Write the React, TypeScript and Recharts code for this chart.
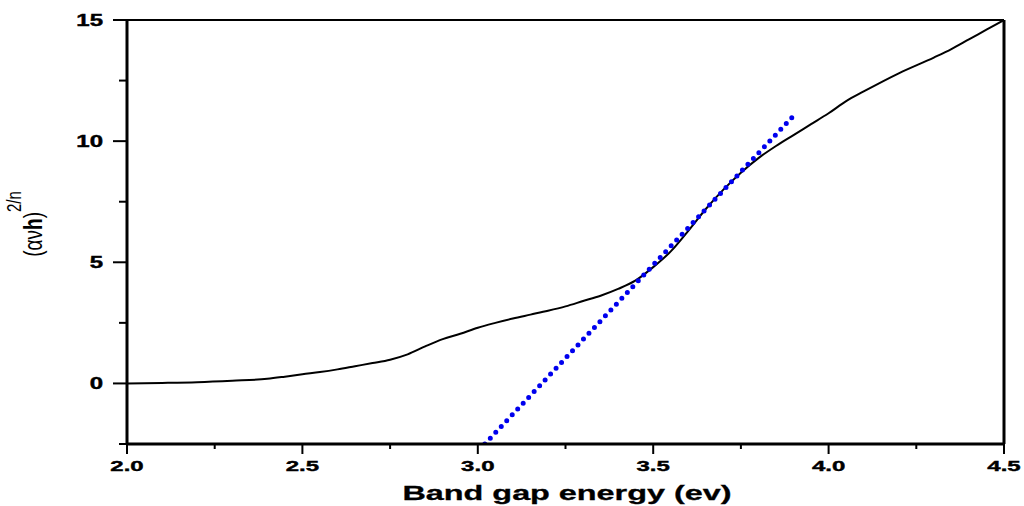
import { LineChart, Line, XAxis, YAxis, ReferenceLine } from 'recharts'

// measured absorption curve
const energy = [
  2.0, 2.1, 2.2, 2.3, 2.4, 2.45, 2.5, 2.55, 2.6, 2.65, 2.7, 2.75, 2.8, 2.85, 2.9, 2.95,
  3.0, 3.05, 3.1, 3.15, 3.2, 3.25, 3.3, 3.35, 3.4, 3.45, 3.5, 3.55, 3.6, 3.65, 3.7, 3.75,
  3.8, 3.85, 3.9, 3.95, 4.0, 4.05, 4.1, 4.2, 4.3, 4.35, 4.4, 4.45, 4.5,
]
const absorption = [
  0.0, 0.02, 0.05, 0.11, 0.19, 0.28, 0.38, 0.47, 0.58, 0.71, 0.84, 0.98, 1.2, 1.53, 1.83, 2.05,
  2.3, 2.5, 2.68, 2.84, 3.0, 3.18, 3.4, 3.62, 3.9, 4.25, 4.8, 5.45, 6.3, 7.2, 8.0, 8.7,
  9.3, 9.8, 10.25, 10.7, 11.15, 11.65, 12.05, 12.8, 13.45, 13.8, 14.2, 14.6, 15.0,
]

// linear fit (Tauc extrapolation)
const fitEnergy = [3.02, 3.91]
const fitValue = [-2.5, 11.2]

const xTicks = [2.0, 2.25, 2.5, 2.75, 3.0, 3.25, 3.5, 3.75, 4.0, 4.25, 4.5]
const yTicks = [-2.5, 0, 2.5, 5, 7.5, 10, 12.5, 15]

const curveData = energy.map((x, i) => ({ x, y: absorption[i] }))
const fitData = fitEnergy.map((x, i) => ({ x, y: fitValue[i] }))

const FONT = '"Liberation Sans", Arial, sans-serif'

function YTick({ x, y, payload }: any) {
  const v = payload.value as number
  const major = v % 5 === 0
  return (
    <g>
      <line x1={x - (major ? 14 : 8)} x2={x} y1={y} y2={y} stroke="#000" strokeWidth={2} />
      {major && (
        <text
          transform={`translate(${x - 24}, ${y + 6}) scale(1.5, 1)`}
          textAnchor="end"
          fontFamily={FONT}
          fontWeight="bold"
          fontSize={16}
          fill="#000"
          stroke="#000"
          strokeWidth={0.4}
        >
          {v}
        </text>
      )}
    </g>
  )
}

function XTick({ x, y, payload }: any) {
  const v = payload.value as number
  const major = Math.abs(v * 2 - Math.round(v * 2)) < 1e-6
  return (
    <g>
      <line x1={x} x2={x} y1={y} y2={y + (major ? 10 : 5)} stroke="#000" strokeWidth={2} />
      {major && (
        <text
          transform={`translate(${x}, ${y + 27}) scale(1.6, 1)`}
          textAnchor="middle"
          fontFamily={FONT}
          fontWeight="bold"
          fontSize={15}
          fill="#000"
          stroke="#000"
          strokeWidth={0.4}
        >
          {v.toFixed(1)}
        </text>
      )}
    </g>
  )
}

function XTitle() {
  return (
    <text
      x={567}
      y={500}
      textAnchor="middle"
      textLength={329}
      lengthAdjust="spacingAndGlyphs"
      fontFamily={FONT}
      fontWeight="bold"
      fontSize={21}
      fill="#000"
      stroke="#000"
      strokeWidth={0.3}
    >
      Band gap energy (ev)
    </text>
  )
}

function YTitle() {
  return (
    <text
      transform="translate(41.5, 224) scale(1.35, 1) rotate(-90)"
      textAnchor="middle"
      fontFamily={FONT}
      fontSize={19}
      fill="#000"
    >
      (αν<tspan fontWeight="bold">h</tspan>)
      <tspan fontSize={15} dy={-15}>2/n</tspan>
    </text>
  )
}

export default function App() {
  return (
    <div style={{ position: 'absolute', left: 0, top: 0, width: 1024, height: 506, background: '#fff' }}>
      <LineChart width={1024} height={506} margin={{ top: 20, right: 20, bottom: 0, left: 0 }}>
        <XAxis
          type="number"
          dataKey="x"
          domain={[2, 4.5]}
          ticks={xTicks}
          interval={0}
          allowDataOverflow
          height={62}
          tickSize={0}
          tickMargin={0}
          tickLine={false}
          axisLine={{ stroke: '#000', strokeWidth: 3 }}
          tick={(props: any) => <XTick {...props} />}
          label={<XTitle />}
        />
        <YAxis
          type="number"
          domain={[-2.5, 15]}
          ticks={yTicks}
          interval={0}
          allowDataOverflow
          width={127}
          tickSize={0}
          tickMargin={0}
          tickLine={false}
          axisLine={{ stroke: '#000', strokeWidth: 3 }}
          tick={(props: any) => <YTick {...props} />}
          label={<YTitle />}
        />
        <ReferenceLine y={15} stroke="#000" strokeWidth={2} />
        <ReferenceLine x={4.5} stroke="#000" strokeWidth={3} />
        <Line
          data={curveData}
          dataKey="y"
          type="monotone"
          stroke="#000"
          strokeWidth={2}
          dot={false}
          isAnimationActive={false}
        />
        <Line
          data={fitData}
          dataKey="y"
          type="linear"
          stroke="#0000ee"
          strokeWidth={5}
          strokeDasharray="0 8"
          strokeLinecap="round"
          dot={false}
          isAnimationActive={false}
        />
      </LineChart>
    </div>
  )
}
